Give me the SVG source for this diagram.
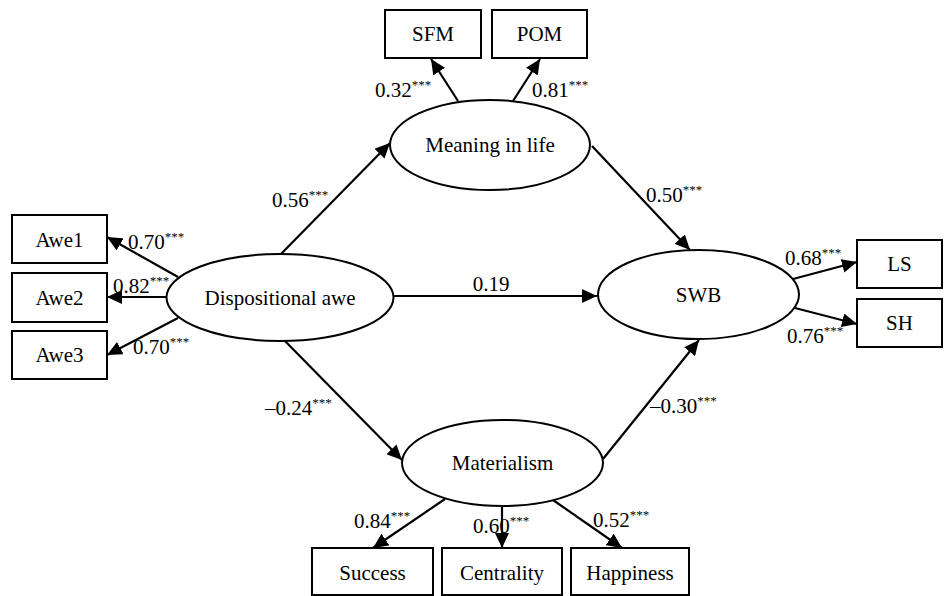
<svg xmlns="http://www.w3.org/2000/svg" width="944" height="596" viewBox="0 0 944 596">
<style>
text{font-family:"Liberation Serif","Times New Roman",serif;font-size:21px;fill:#000}
.sup{font-size:13px}
.box{fill:#fff;stroke:#000;stroke-width:2}
.ell{fill:#fff;stroke:#000;stroke-width:2}
.c line{stroke:#000;stroke-width:2.2;marker-end:url(#ah)}
.n{text-anchor:middle}
</style>
<defs>
<marker id="ah" markerUnits="userSpaceOnUse" markerWidth="16" markerHeight="14" refX="15" refY="7" orient="auto">
<path d="M0,0 L15,7 L0,14 z" fill="#000"/>
</marker>
</defs>
<rect width="944" height="596" fill="#fff"/>
<g id="connectors" class="c">
<line x1="458" y1="101" x2="431" y2="59"/>
<line x1="513" y1="101" x2="540" y2="59"/>
<line x1="281" y1="254" x2="390" y2="143"/>
<line x1="592" y1="146" x2="690" y2="250"/>
<line x1="178" y1="277" x2="107" y2="237"/>
<line x1="166" y1="297" x2="107" y2="297"/>
<line x1="178" y1="318" x2="107" y2="355"/>
<line x1="393" y1="296" x2="597" y2="296"/>
<line x1="285" y1="341" x2="402" y2="460"/>
<line x1="603" y1="459" x2="699" y2="340"/>
<line x1="793" y1="279" x2="857" y2="262"/>
<line x1="795" y1="308" x2="857" y2="324"/>
<line x1="445" y1="499" x2="373" y2="548"/>
<line x1="502" y1="506" x2="502" y2="548"/>
<line x1="553" y1="500" x2="622" y2="548"/>
</g>
<g id="labels">
<text x="128" y="249">0.70<tspan class="sup" dy="-8">***</tspan></text>
<text x="113" y="293">0.82<tspan class="sup" dy="-8">***</tspan></text>
<text x="133" y="354">0.70<tspan class="sup" dy="-8">***</tspan></text>
<text x="375" y="97">0.32<tspan class="sup" dy="-8">***</tspan></text>
<text x="532" y="97">0.81<tspan class="sup" dy="-8">***</tspan></text>
<text x="272" y="207">0.56<tspan class="sup" dy="-8">***</tspan></text>
<text x="646" y="202">0.50<tspan class="sup" dy="-8">***</tspan></text>
<text x="491" y="291" class="n">0.19</text>
<text x="785" y="265">0.68<tspan class="sup" dy="-8">***</tspan></text>
<text x="787" y="343">0.76<tspan class="sup" dy="-8">***</tspan></text>
<text x="265" y="415">–0.24<tspan class="sup" dy="-8">***</tspan></text>
<text x="650" y="413">–0.30<tspan class="sup" dy="-8">***</tspan></text>
<text x="354" y="528">0.84<tspan class="sup" dy="-8">***</tspan></text>
<text x="473" y="533">0.60<tspan class="sup" dy="-8">***</tspan></text>
<text x="593" y="527">0.52<tspan class="sup" dy="-8">***</tspan></text>
</g>
<g id="SFM"><rect class="box" x="385" y="10" width="96" height="48"/><text class="n" x="433" y="41">SFM</text></g>
<g id="POM"><rect class="box" x="492" y="10" width="95" height="48"/><text class="n" x="539.5" y="41">POM</text></g>
<g id="Meaning"><ellipse class="ell" cx="490" cy="145" rx="100" ry="45"/><text class="n" x="490" y="152">Meaning in life</text></g>
<g id="Awe1"><rect class="box" x="12" y="215" width="95" height="48"/><text class="n" x="59.5" y="247">Awe1</text></g>
<g id="Awe2"><rect class="box" x="12" y="273" width="95" height="49"/><text class="n" x="59.5" y="305">Awe2</text></g>
<g id="Awe3"><rect class="box" x="12" y="331" width="95" height="48"/><text class="n" x="59.5" y="362">Awe3</text></g>
<g id="Awe"><ellipse class="ell" cx="280" cy="297.5" rx="113.5" ry="43.5"/><text class="n" x="280" y="305">Dispositional awe</text></g>
<g id="SWB"><ellipse class="ell" cx="698.5" cy="294.5" rx="100.5" ry="44.5"/><text class="n" x="698.5" y="302">SWB</text></g>
<g id="LS"><rect class="box" x="857" y="240" width="85" height="48"/><text class="n" x="899.5" y="271">LS</text></g>
<g id="SH"><rect class="box" x="857" y="299" width="85" height="48"/><text class="n" x="899.5" y="330">SH</text></g>
<g id="Materialism"><ellipse class="ell" cx="502.5" cy="463" rx="100.5" ry="43"/><text class="n" x="502.5" y="470">Materialism</text></g>
<g id="Success"><rect class="box" x="312" y="548" width="121" height="47"/><text class="n" x="372.5" y="580">Success</text></g>
<g id="Centrality"><rect class="box" x="442" y="548" width="120" height="47"/><text class="n" x="502" y="580">Centrality</text></g>
<g id="Happiness"><rect class="box" x="571" y="548" width="118" height="47"/><text class="n" x="630" y="580">Happiness</text></g>
</svg>
